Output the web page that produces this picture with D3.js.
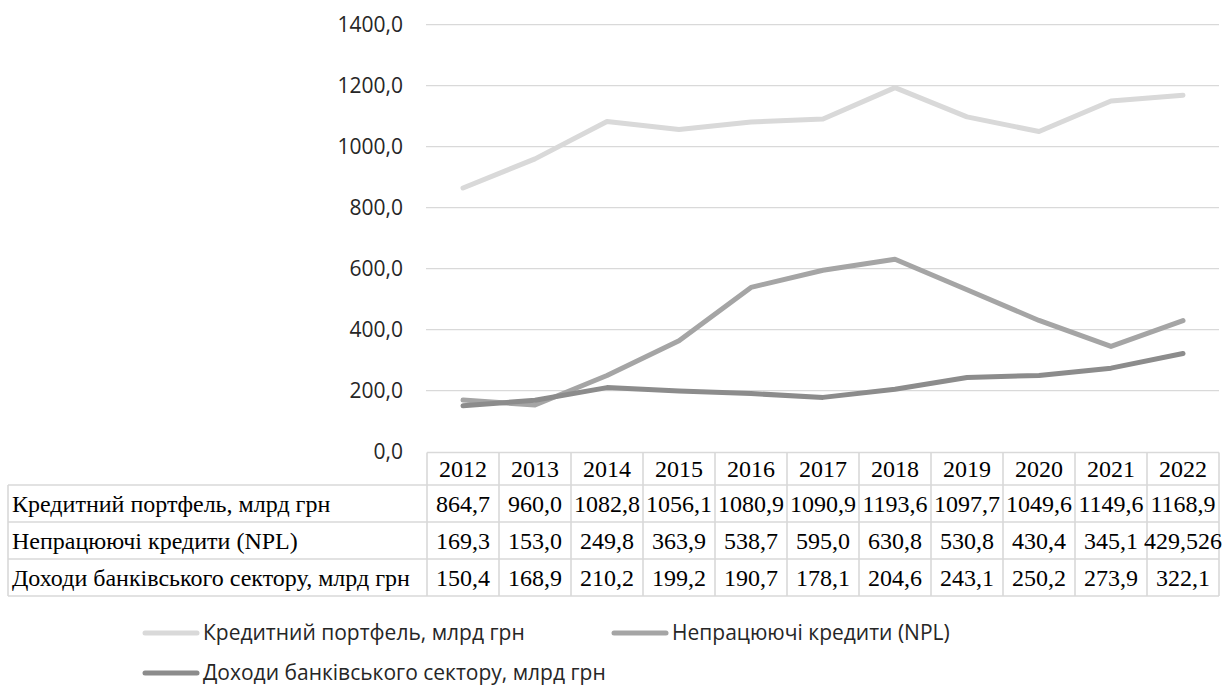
<!DOCTYPE html>
<html><head><meta charset="utf-8">
<script src="https://cdn.jsdelivr.net/npm/d3@7"></script>
<style>body{margin:0;background:#fff}svg{display:block}</style>
</head><body><svg id="c" width="1225" height="686"></svg>
<script>
const years = ["2012","2013","2014","2015","2016","2017","2018","2019","2020","2021","2022"];
const seriesNames = ["Кредитний портфель, млрд грн","Непрацюючі кредити (NPL)","Доходи банківського сектору, млрд грн"];
const loans = [864.7,960.0,1082.8,1056.1,1080.9,1090.9,1193.6,1097.7,1049.6,1149.6,1168.9];
const npl = [169.3,153.0,249.8,363.9,538.7,595.0,630.8,530.8,430.4,345.1,429.526];
const income = [150.4,168.9,210.2,199.2,190.7,178.1,204.6,243.1,250.2,273.9,322.1];
const yTicks = [0,200,400,600,800,1000,1200,1400];

const series = [loans, npl, income];
const colors = ["#d9d9d9","#a5a5a5","#8c8c8c"];

const svg = d3.select("#c");
const L = 427, R = 1219, T = 24.7, B = 451.7;
const x = d3.scaleBand().domain(years).range([L, R]);
const y = d3.scaleLinear().domain([0,1400]).range([B, T]);
const sans = "'Open Sans', sans-serif";

// gridlines
svg.append("g").selectAll("line").data(yTicks.filter(d=>d>0)).join("line")
  .attr("x1", 426).attr("x2", R).attr("y1", d=>y(d)).attr("y2", d=>y(d))
  .attr("stroke","#d9d9d9").attr("stroke-width",1.3);

// y labels
const fmt = v => (Number.isInteger(v) ? v.toFixed(1) : String(v)).replace(".", ",");
svg.append("g").selectAll("text").data(yTicks).join("text")
  .attr("x", 403).attr("y", d=>y(d)).attr("dy","0.35em")
  .attr("text-anchor","end")
  .style("font-family",sans).style("font-size","21px").attr("fill","#262626")
  .text(d=>d3.format(".1f")(d).replace(".", ","));

// lines
const line = d3.line().x((d,i)=>x(years[i]) + x.bandwidth()/2).y(d=>y(d));
series.forEach((s,k)=>{
  svg.append("path").datum(s).attr("d", line).attr("fill","none")
    .attr("stroke", colors[k]).attr("stroke-width",5)
    .attr("stroke-linecap","round").attr("stroke-linejoin","round");
});

// table
const rowLines = [452.5, 485, 522, 559, 596];
const tb = svg.append("g");
const tStyle = sel => sel.style("font-family","'Liberation Serif', 'Times New Roman', serif")
  .style("font-size","24px").attr("fill","#000");
const bc = "#d9d9d9", bw = 1.6;
const mid = i => (rowLines[i] + rowLines[i+1]) / 2;
tb.append("line").attr("x1", L).attr("x2", R).attr("y1", rowLines[0]).attr("y2", rowLines[0]).attr("stroke",bc).attr("stroke-width",bw);
for (let i=1;i<=4;i++) tb.append("line").attr("x1", 8).attr("x2", R).attr("y1", rowLines[i]).attr("y2", rowLines[i]).attr("stroke",bc).attr("stroke-width",bw);
tb.append("line").attr("x1", 8).attr("x2", 8).attr("y1", rowLines[1]).attr("y2", rowLines[4]).attr("stroke",bc).attr("stroke-width",bw);
tb.selectAll(".v").data(years).join("line").attr("class","v")
  .attr("x1", d=>x(d)).attr("x2", d=>x(d)).attr("y1", rowLines[0]).attr("y2", rowLines[4]).attr("stroke",bc).attr("stroke-width",bw);
tb.append("line").attr("x1", R).attr("x2", R).attr("y1", rowLines[0]).attr("y2", rowLines[4]).attr("stroke",bc).attr("stroke-width",bw);
tb.selectAll(".h").data(years).join("text").attr("class","h")
  .attr("x", d=>x(d)+x.bandwidth()/2).attr("y", mid(0)).attr("dy","0.35em")
  .attr("text-anchor","middle").call(tStyle).text(d=>d);
series.forEach((s,k)=>{
  tb.append("text").attr("x", 12).attr("y", mid(k+1)).attr("dy","0.35em").call(tStyle).text(seriesNames[k]);
  tb.selectAll(".r"+k).data(s).join("text").attr("class","r"+k)
    .attr("x", (d,i)=>x(years[i])+x.bandwidth()/2).attr("y", mid(k+1)).attr("dy","0.35em")
    .attr("text-anchor","middle").call(tStyle).text(d=>fmt(d));
});

// legend
const leg = [{x:143,y:633},{x:612,y:633},{x:143,y:673}];
series.forEach((s,k)=>{
  const g = svg.append("g").attr("transform",`translate(${leg[k].x},${leg[k].y})`);
  g.append("line").attr("x1",2).attr("x2",54).attr("stroke",colors[k]).attr("stroke-width",5).attr("stroke-linecap","round");
  g.append("text").attr("x",60).attr("dy","0.35em")
    .style("font-family",sans).style("font-size","21px").attr("fill","#262626")
    .text(seriesNames[k]);
});
</script></body></html>
